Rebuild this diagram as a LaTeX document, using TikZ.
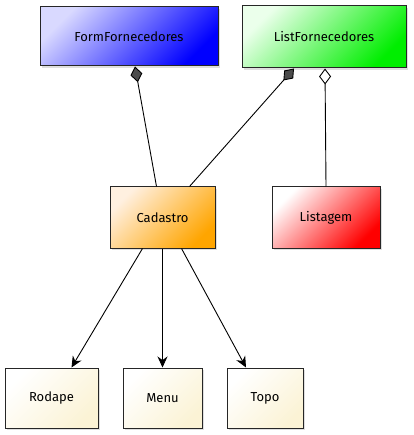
\documentclass[tikz,border=0pt]{standalone}
\usepackage{fontspec}
\setmainfont{Fira Sans}
\usetikzlibrary{arrows.meta, positioning, shadows}
\definecolor{umlblue}{HTML}{0000FF}
\definecolor{umlgreen}{HTML}{00EE00}
\definecolor{umlorange}{HTML}{FFA500}
\definecolor{umlred}{HTML}{FF0000}
\definecolor{umlcream}{HTML}{FBF3D5}

\begin{document}
\begin{tikzpicture}[
    x=1pt, y=-1pt,
    box/.style={draw=black!85, line width=1pt, minimum height=60pt, align=center,
      font=\fontsize{13}{15}\selectfont,
      drop shadow={opacity=0.25, shadow xshift=2pt, shadow yshift=-2pt}},
    grad/.style 2 args={top color=#2, bottom color=#1, shading angle=45},
    comp/.style={{Diamond[length=16pt, width=12pt, fill=black!70]}-, line width=0.9pt},
    aggr/.style={{Diamond[open, length=16pt, width=12pt, fill=white]}-, line width=0.9pt},
    dep/.style={-{Stealth[length=11pt, width=10pt]}, line width=0.9pt}
  ]
  \useasboundingbox (0,0) rectangle (413,435);

  % Top row
  \node[box, grad={umlblue}{blue!15}, minimum width=178pt, minimum height=59pt] (formforn) at (129, 36.5) {FormFornecedores};
  \node[box, grad={umlgreen}{green!8}, minimum width=164pt, minimum height=62pt] (listforn) at (324, 37) {ListFornecedores};

  % Middle row
  \node[box, grad={umlorange}{orange!12}, minimum width=105pt, minimum height=61pt] (cadastro) at (162.5, 217.5) {Cadastro};
  \node[box, grad={umlred}{white}, minimum width=108pt, minimum height=61pt] (listagem) at (326, 217.5) {Listagem};

  % Bottom row
  \node[box, grad={umlcream}{white}, minimum width=93pt] (rodape) at (51.5, 398) {Rodape};
  \node[box, grad={umlcream}{white}, minimum width=79pt] (menu) at (162.5, 398) {Menu};
  \node[box, grad={umlcream}{white}, minimum width=76pt] (topo) at (265, 398) {Topo};

  % Associations
  \draw[comp] ([xshift=6pt]formforn.south) -- ([xshift=-6pt]cadastro.north);
  \draw[comp] ([xshift=-30pt]listforn.south) -- ([xshift=27pt]cadastro.north);
  \draw[aggr] ([xshift=1pt]listforn.south) -- (listagem.north);

  \draw[dep] ([xshift=-20pt]cadastro.south) -- ([xshift=20pt]rodape.north);
  \draw[dep] (cadastro.south) -- (menu.north);
  \draw[dep] ([xshift=19pt]cadastro.south) -- ([xshift=-19pt]topo.north);
\end{tikzpicture}
\end{document}
